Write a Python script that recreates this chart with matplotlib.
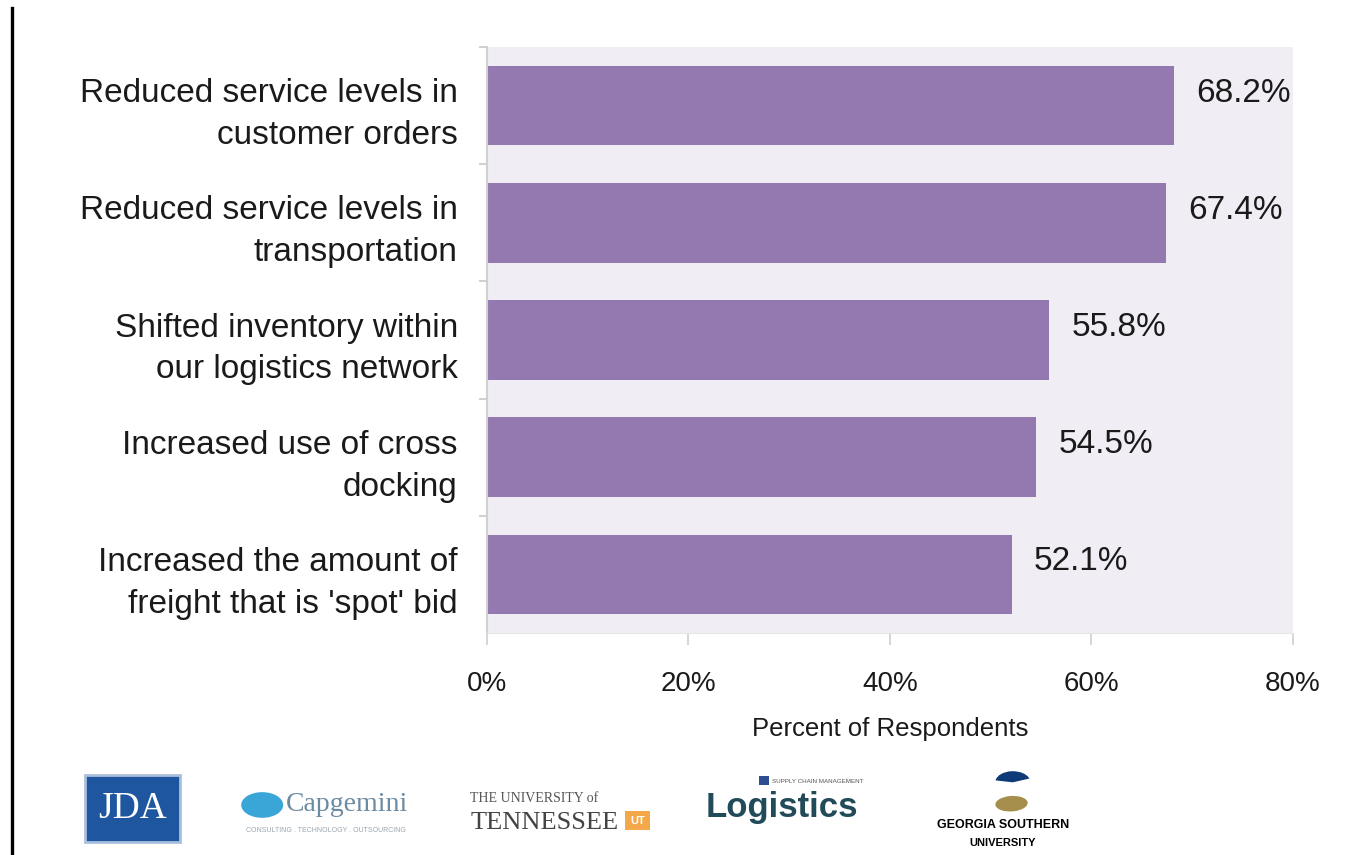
import matplotlib.pyplot as plt
from matplotlib.patches import Rectangle, Ellipse, Wedge
from matplotlib.lines import Line2D

plt.rcParams['font.family'] = ['Liberation Sans', 'DejaVu Sans']

# data, top to bottom
categories = [
    "Reduced service levels in\ncustomer orders",
    "Reduced service levels in\ntransportation",
    "Shifted inventory within\nour logistics network",
    "Increased use of cross\ndocking",
    "Increased the amount of\nfreight that is 'spot' bid",
]
values = [68.2, 67.4, 55.8, 54.5, 52.1]
x_ticks = [0, 20, 40, 60, 80]
x_tick_labels = ["0%", "20%", "40%", "60%", "80%"]

BAR_COLOR = "#9479B1"
BG_COLOR = "#F0EEF4"
TEXT_COLOR = "#1A1A1A"


def draw_logos(fig):
    # JDA
    fig.add_artist(Rectangle((0.0627, 0.0152), 0.0701, 0.0784,
                             transform=fig.transFigure, facecolor="#1E56A0",
                             edgecolor="#A9C0DC", linewidth=2))
    fig.text(0.0977, 0.054, "JDA", color="white", fontsize=27,
             family="Liberation Serif", ha="center", va="center")
    # Capgemini
    fig.add_artist(Ellipse((0.1935, 0.0585), 0.031, 0.03,
                           transform=fig.transFigure, facecolor="#3AA6D8",
                           edgecolor="none"))
    fig.text(0.211, 0.0585, "Capgemini", color="#6B8BA3", fontsize=20,
             family="Liberation Serif", ha="left", va="center")
    fig.text(0.2405, 0.029, "CONSULTING . TECHNOLOGY . OUTSOURCING",
             color="#9AA5AE", fontsize=5, ha="center", va="center")
    # Tennessee
    fig.text(0.347, 0.066, "THE UNIVERSITY of", color="#555555", fontsize=10,
             family="Liberation Serif", ha="left", va="center")
    fig.text(0.347, 0.038, "TENNESSEE", color="#444444", fontsize=19,
             family="Liberation Serif", ha="left", va="center")
    fig.add_artist(Rectangle((0.461, 0.029), 0.019, 0.022,
                             transform=fig.transFigure, facecolor="#F4A84A",
                             edgecolor="none"))
    fig.text(0.4705, 0.040, "UT", color="white", fontsize=8, weight="bold",
             ha="center", va="center")
    # Logistics
    fig.add_artist(Rectangle((0.5605, 0.082), 0.007, 0.01,
                             transform=fig.transFigure, facecolor="#2E4F8F",
                             edgecolor="none"))
    fig.text(0.570, 0.086, "SUPPLY CHAIN MANAGEMENT", color="#555555",
             fontsize=4.5, ha="left", va="center")
    fig.text(0.5205, 0.0555, "Logistics", color="#224B5A", fontsize=25,
             weight="bold", ha="left", va="center")
    # Georgia Southern
    fig.add_artist(Wedge((0.7475, 0.085), 0.013, 20, 170,
                         transform=fig.transFigure, facecolor="#0E3A78",
                         edgecolor="none"))
    fig.add_artist(Ellipse((0.7465, 0.06), 0.024, 0.018,
                           transform=fig.transFigure, facecolor="#A58E4B",
                           edgecolor="none", angle=10))
    fig.text(0.740, 0.035, "GEORGIA SOUTHERN", color="black", fontsize=9,
             weight="bold", ha="center", va="center")
    fig.text(0.740, 0.014, "UNIVERSITY", color="black", fontsize=8,
             weight="bold", ha="center", va="center")


def create_chart():
    fig = plt.figure(figsize=(13.55, 8.55), dpi=100)
    ax = fig.add_axes([0.3594, 0.2596, 0.5948, 0.6854])
    ax.set_facecolor(BG_COLOR)

    y_pos = list(range(len(categories)))
    ax.barh(y_pos, values, height=0.68, color=BAR_COLOR, edgecolor="none")

    for y, v in zip(y_pos, values):
        ax.annotate(f"{v:.1f}%", xy=(v, y), xytext=(16, 9),
                    textcoords="offset points", ha="left", va="center",
                    fontsize=24, color=TEXT_COLOR)

    ax.set_xlim(0, 80)
    ax.set_ylim(len(categories) - 0.5, -0.5)

    ax.set_xticks(x_ticks)
    ax.set_xticklabels(x_tick_labels, fontsize=20, color=TEXT_COLOR)
    ax.tick_params(axis="x", length=8.6, width=1.2, color="#D0D0D0", pad=19)

    ax.set_yticks(y_pos)
    ax.set_yticklabels(categories, fontsize=24, color=TEXT_COLOR,
                       linespacing=1.45)
    ax.tick_params(axis="y", which="major", length=0, pad=21)
    ax.set_yticks([i - 0.5 for i in range(len(categories))], minor=True)
    ax.tick_params(axis="y", which="minor", length=6, width=1.2,
                   color="#C8C8C8")

    ax.set_xlabel("Percent of Respondents", fontsize=18.5, color=TEXT_COLOR,
                  labelpad=14)

    for side in ["top", "right"]:
        ax.spines[side].set_visible(False)
    ax.spines["left"].set_color("#D0D0D0")
    ax.spines["left"].set_linewidth(1.5)
    ax.spines["bottom"].set_color("#E6E6E6")

    fig.add_artist(Line2D([0.0089, 0.0089], [0.0, 0.991],
                          transform=fig.transFigure, color="black",
                          linewidth=2.4))
    draw_logos(fig)
    fig.savefig("out.png", dpi=100, facecolor="white")


create_chart()
